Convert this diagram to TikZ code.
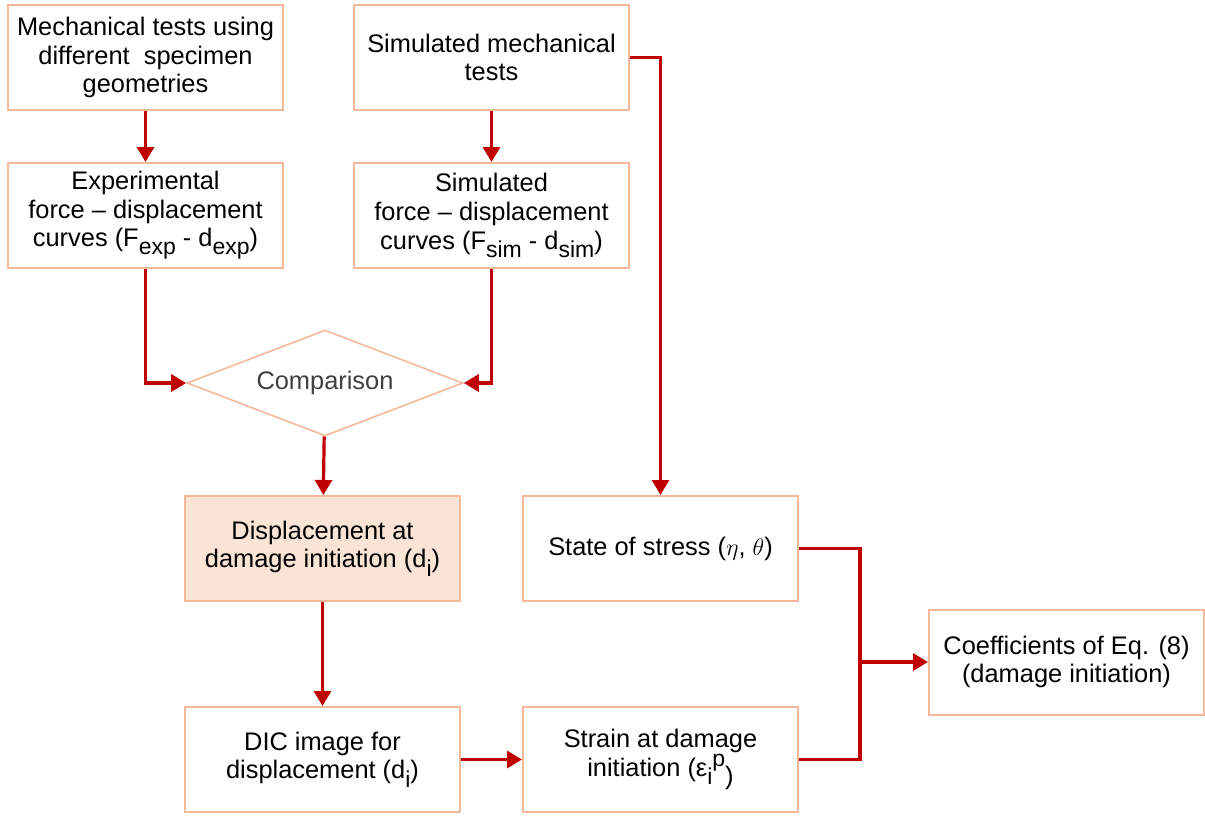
\documentclass[tikz,border=0pt]{standalone}
\usepackage{fontspec}
\setmainfont{Liberation Sans}
\usetikzlibrary{shapes.geometric,arrows.meta}

\definecolor{boxline}{HTML}{F4B99A}
\definecolor{boxfill}{HTML}{FAE4D6}
\definecolor{flowred}{HTML}{C00000}
\definecolor{cmptext}{HTML}{404040}

\newcommand{\lowsub}[1]{\raisebox{-0.6ex}{\fontsize{11.5}{11.5}\selectfont #1}}
\newcommand{\highsup}[1]{\raisebox{0.7ex}{\fontsize{11.5}{11.5}\selectfont #1}}

\begin{document}
\begin{tikzpicture}[
    x=0.5pt, y=-0.5pt,
    box/.style={rectangle, draw=boxline, line width=1pt, fill=white,
        minimum width=137.5pt, minimum height=52.5pt, inner sep=2pt,
        align=center, font=\fontsize{12.7}{14.3}\selectfont},
    decision/.style={diamond, draw=boxline, line width=0.8pt, fill=white,
        aspect=2.6, minimum width=138pt, minimum height=53pt, inner sep=0pt,
        font=\fontsize{12.7}{14.3}\selectfont, text=cmptext},
    link/.style={draw=flowred, line width=1.6pt},
    flow/.style={link, -{Triangle[length=7.5pt,width=8.5pt]}}
]
    \useasboundingbox (0,0) rectangle (1205,816);
    \node[box] (mech) at (145.5,57.5) {Mechanical tests using\\different\ \ specimen\\geometries};
    \node[box] (simt) at (491.5,57.5) {Simulated mechanical\\tests};
    \node[box] (expc) at (145.5,215.5) {Experimental\\force -- displacement\\curves (F\lowsub{exp} - d\lowsub{exp})};
    \node[box] (simc) at (491.5,215.5) {Simulated\\force -- displacement\\curves (F\lowsub{sim} - d\lowsub{sim})};
    \node[decision] (cmp) at (325,383) {Comparison};
    \node[box, fill=boxfill] (dinit) at (322.5,548.5) {Displacement at\\damage initiation (d\lowsub{i})};
    \node[box] (stress) at (660.5,548.5) {State of stress ($\eta$, $\theta$)};
    \node[box] (dic) at (322.5,759.5) {DIC image for\\displacement (d\lowsub{i})};
    \node[box] (strain) at (660.5,759.5) {Strain at damage\\initiation (ε\lowsub{i}\highsup{p}\raisebox{-0.6ex}{)}};
    \node[box] (coef) at (1066.5,662) {Coefficients of Eq. (8)\\(damage initiation)};
    \coordinate (join) at (860,662);
    \draw[flow] (mech) -- (expc);
    \draw[flow] (simt) -- (simc);
    \draw[flow] (expc.south) |- (cmp.west);
    \draw[flow] (simc.south) |- (cmp.east);
    \draw[flow] (cmp) -- (dinit);
    \draw[flow] (dinit) -- (dic);
    \draw[flow] (dic) -- (strain);
    \draw[flow] (simt.east) -| (stress.north);
    \draw[link] (stress.east) -| (join) |- (strain.east);
    \draw[flow] (join) -- (coef);
\end{tikzpicture}
\end{document}
